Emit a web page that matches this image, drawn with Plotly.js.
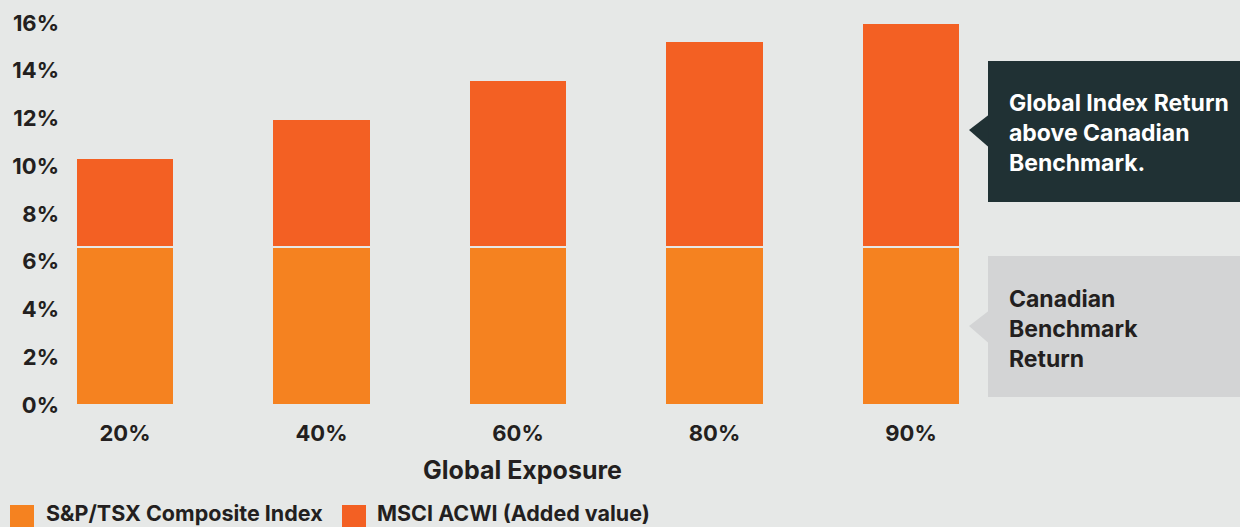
<!DOCTYPE html>
<html>
<head>
<meta charset="utf-8">
<script src="https://cdn.plot.ly/plotly-3.0.1.min.js"></script>
<style>
  html, body { margin: 0; padding: 0; background: #e6e8e7; }
  #chart { width: 1240px; height: 527px; }
</style>
</head>
<body>
<div id="chart"></div>
<script>
// ---- Data ----
const categories = ['20%', '40%', '60%', '80%', '90%'];
const seriesNames = ['S&P/TSX Composite Index', 'MSCI ACWI (Added value)'];
const tsxReturn = [6.6, 6.6, 6.6, 6.6, 6.6];
const acwiAddedValue = [3.75, 5.4, 7.0, 8.65, 9.4];
const yTickValues = [0, 2, 4, 6, 8, 10, 12, 14, 16];
const yTickLabels = ['0%', '2%', '4%', '6%', '8%', '10%', '12%', '14%', '16%'];
const xAxisTitle = 'Global Exposure';
const calloutGlobal = 'Global Index Return<br>above Canadian<br>Benchmark.';
const calloutCanada = 'Canadian<br>Benchmark<br>Return';

// ---- Style ----
const BG = '#e6e8e7';
const ORANGE = '#f58220';
const RED_ORANGE = '#f36023';
const DARK = '#231f20';
const FONT = 'Inter, Lato, "Open Sans", sans-serif';

const W = 1240, H = 527;
const M = { l: 65, r: 260, t: 10, b: 122 };
const PW = W - M.l - M.r, PH = H - M.t - M.b;
// pixel -> paper helpers for decorative shapes
const px = x => (x - M.l) / PW;
const py = y => 1 - (y - M.t) / PH;

const traces = [
  {
    type: 'bar', name: seriesNames[0], x: categories, y: tsxReturn,
    marker: { color: ORANGE, line: { color: BG, width: 2 } },
    hovertemplate: '%{x}: %{y}%<extra>' + seriesNames[0] + '</extra>'
  },
  {
    type: 'bar', name: seriesNames[1], x: categories, y: acwiAddedValue,
    marker: { color: RED_ORANGE, line: { color: BG, width: 2 } },
    hovertemplate: '%{x}: %{y}%<extra>' + seriesNames[1] + '</extra>'
  }
];

function rectShape(x0, y0, x1, y1, color) {
  return { type: 'rect', xref: 'paper', yref: 'paper', x0: px(x0), x1: px(x1), y0: py(y0), y1: py(y1),
           fillcolor: color, line: { width: 0 }, layer: 'above' };
}
function triShape(tipX, tipY, baseX, baseY0, baseY1, color) {
  return { type: 'path', xref: 'paper', yref: 'paper',
           path: `M ${px(baseX)} ${py(baseY0)} L ${px(tipX)} ${py(tipY)} L ${px(baseX)} ${py(baseY1)} Z`,
           fillcolor: color, line: { width: 0 }, layer: 'above' };
}

const shapes = [
  rectShape(988, 61, 1250, 202, '#203134'),
  triShape(969, 130, 988.5, 115, 147, '#203134'),
  rectShape(988, 256, 1250, 397, '#d3d4d5'),
  triShape(969, 326, 988.5, 311, 343, '#d3d4d5'),
  // legend swatches
  rectShape(10, 505, 34, 535, ORANGE),
  rectShape(342, 505, 366, 535, RED_ORANGE)
];

const annotations = [
  { xref: 'paper', yref: 'paper', x: px(1007), y: py(132.5), xanchor: 'left', yanchor: 'middle', align: 'left',
    showarrow: false, text: calloutGlobal, font: { family: FONT, size: 23, color: '#ffffff', weight: 700 } },
  { xref: 'paper', yref: 'paper', x: px(1007), y: py(328.5), xanchor: 'left', yanchor: 'middle', align: 'left',
    showarrow: false, text: calloutCanada, font: { family: FONT, size: 23, color: DARK, weight: 700 } },
  { xref: 'paper', yref: 'paper', x: px(44), y: py(513), xanchor: 'left', yanchor: 'middle', align: 'left',
    showarrow: false, text: seriesNames[0], font: { family: FONT, size: 21.5, color: DARK, weight: 700 } },
  { xref: 'paper', yref: 'paper', x: px(375), y: py(513), xanchor: 'left', yanchor: 'middle', align: 'left',
    showarrow: false, text: seriesNames[1], font: { family: FONT, size: 21.5, color: DARK, weight: 700 } }
];

const layout = {
  width: W, height: H,
  margin: M,
  paper_bgcolor: BG, plot_bgcolor: BG,
  barmode: 'stack', bargap: 0.501,
  showlegend: false,
  font: { family: FONT, color: DARK, weight: 700 },
  xaxis: {
    type: 'category',
    range: [(M.l - 125) / 196.5, (W - M.r - 125) / 196.5],
    showgrid: false, zeroline: false, showline: false, ticks: '',
    tickfont: { family: FONT, size: 22, color: DARK, weight: 700 },
    ticklabelstandoff: 13,
    title: { text: xAxisTitle, standoff: 16, font: { family: FONT, size: 25, color: DARK, weight: 700 } },
    fixedrange: true, automargin: false
  },
  yaxis: {
    range: [0, PH / 23.875],
    tickvals: yTickValues, ticktext: yTickLabels,
    showgrid: false, zeroline: false, showline: false, ticks: '',
    tickfont: { family: FONT, size: 22, color: DARK, weight: 700 },
    ticklabelstandoff: 5,
    fixedrange: true, automargin: false
  },
  shapes: shapes,
  annotations: annotations
};

Plotly.newPlot('chart', traces, layout, { displayModeBar: false, staticPlot: true });
</script>
</body>
</html>
